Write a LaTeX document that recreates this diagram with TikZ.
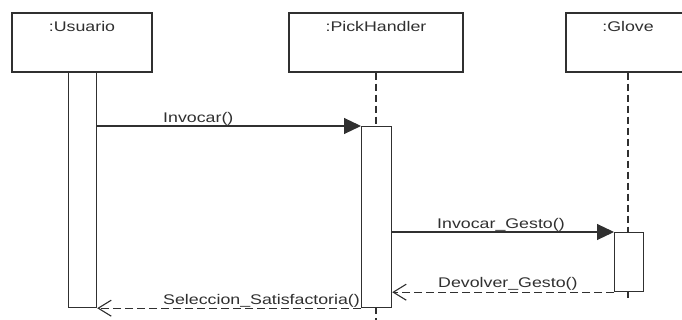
\documentclass[tikz,border=0pt]{standalone}
\usepackage{fontspec}
\setmainfont{Liberation Sans}
\usetikzlibrary{arrows.meta}
\definecolor{ink}{HTML}{303030}
\newcommand{\wide}[1]{\scalebox{1.27}[1]{#1}}
\tikzset{
  objbox/.style={draw=ink, line width=1.4pt, fill=white, rectangle, inner sep=0pt,
    minimum height=59pt},
  actbar/.style={draw=ink, line width=1.2pt, fill=white, rectangle, inner sep=0pt,
    minimum width=29pt},
  lifeline/.style={draw=ink, line width=1.2pt, dash pattern=on 7pt off 4pt},
  callmsg/.style={draw=ink, line width=1.1pt, -{Triangle[length=17pt,width=16pt]}},
  retmsg/.style={draw=ink, line width=1.1pt, dash pattern=on 8pt off 4pt,
    -{Straight Barb[length=13pt,width=16pt,line width=1.1pt]}},
  lbl/.style={inner sep=0pt, text=ink, font=\fontsize{14pt}{16pt}\selectfont},
}
\begin{document}
\begin{tikzpicture}[x=1pt, y=-1pt]
  \useasboundingbox (0,0) rectangle (682,320);
  \clip (0,0) rectangle (682,320);
  \fill[white] (0,0) rectangle (682,320);

  % object boxes
  \node[objbox, minimum width=140pt] (usr) at (82,42.5) {};
  \node[objbox, minimum width=174pt] (pick) at (376,42.5) {};
  \node[objbox, minimum width=124pt] (glove) at (628,42.5) {};
  \node[lbl, anchor=base] at ([yshift=-19.5pt]usr.north) {\wide{:Usuario}};
  \node[lbl, anchor=base] at ([yshift=-19.5pt]pick.north) {\wide{:PickHandler}};
  \node[lbl, anchor=base] at ([yshift=-19.5pt]glove.north) {\wide{:Glove}};

  % lifelines
  \coordinate (pickend) at (376,320);
  \coordinate (gloveend) at (628,300);
  \draw[lifeline] (pick.south) -- (376,126);
  \draw[lifeline] (376,307) -- (pickend);
  \draw[lifeline] (glove.south) -- (628,232);
  \draw[lifeline] (628,291) -- (gloveend);

  % activation bars
  \node[actbar, minimum width=28pt, minimum height=235pt, anchor=north west] (ubar) at (68,72) {};
  \node[actbar, minimum width=30pt, minimum height=181pt, anchor=north west] (pbar) at (361,126) {};
  \node[actbar, minimum width=29pt, minimum height=59pt, anchor=north west] (gbar) at (614,232) {};

  % messages
  \draw[callmsg] (ubar.east |- pbar.north west) -- (pbar.north west);
  \draw[callmsg] (pbar.east |- gbar.north west) -- (gbar.north west);
  \draw[retmsg] (gbar.south west) -- (pbar.east |- gbar.south west);
  \draw[retmsg] (pbar.south west) -- (ubar.south east);

  % message labels
  \node[lbl, anchor=base west] at (163,123) {\wide{Invocar()}};
  \node[lbl, anchor=base west] at (437,229) {\wide{Invocar\_Gesto()}};
  \node[lbl, anchor=base west] at (438,287) {\wide{Devolver\_Gesto()}};
  \node[lbl, anchor=base west] at (163,304) {\wide{Seleccion\_Satisfactoria()}};
\end{tikzpicture}
\end{document}
